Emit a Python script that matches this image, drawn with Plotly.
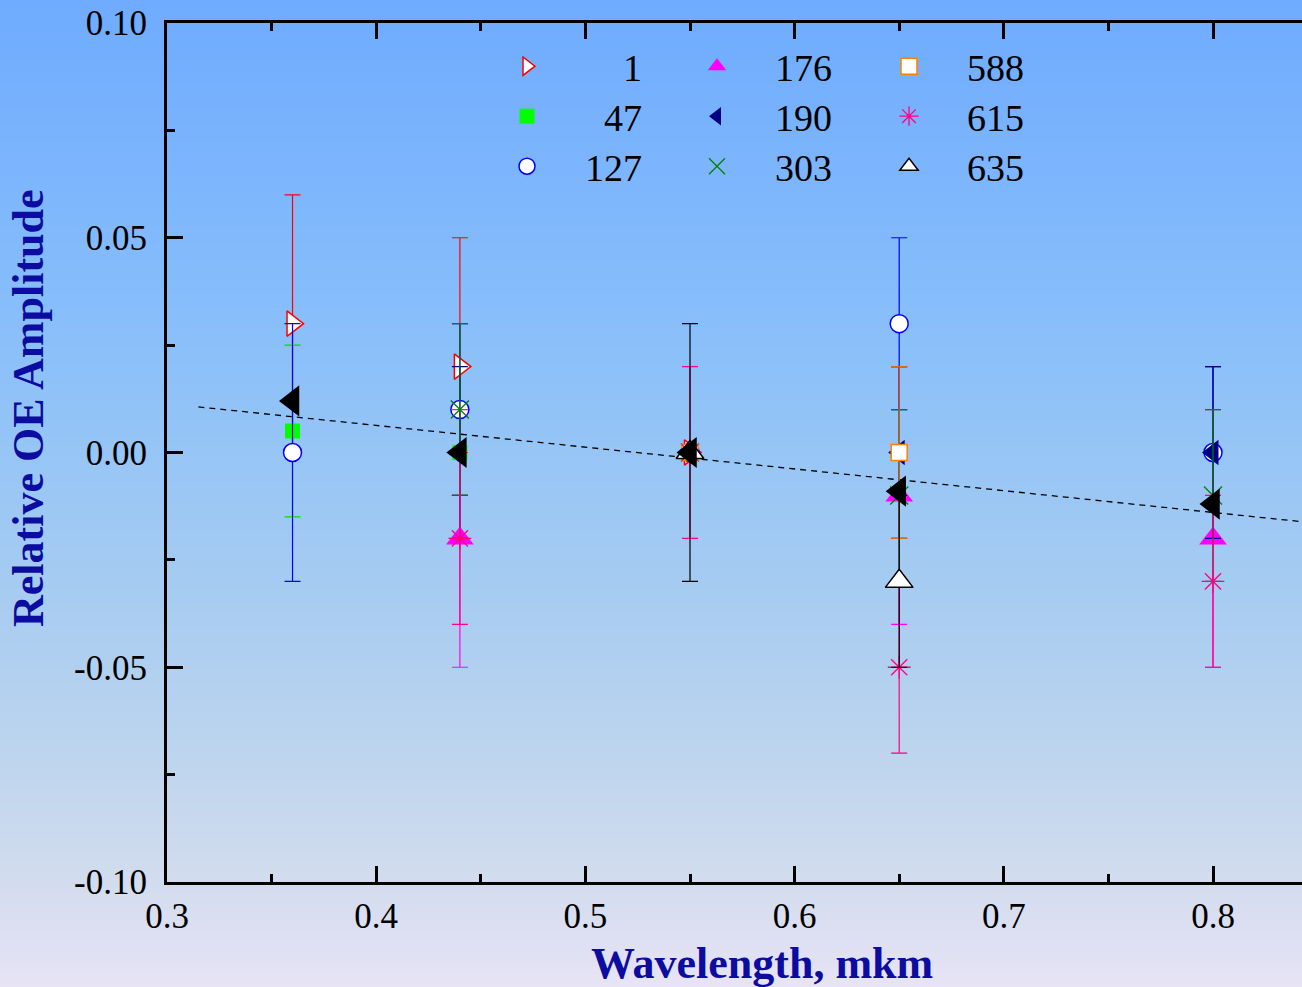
import base64
import struct
import zlib

import numpy as np
import plotly.graph_objects as go

# ---------------------------------------------------------------- data
wavelength = [0.36, 0.44, 0.55, 0.65, 0.80]

s1 = [0.030, 0.020, 0.000, None, None]
s1_err = [0.030, 0.030, 0.000, None, None]

s47 = [0.005, 0.000, 0.000, None, None]
s47_err = [0.020, 0.000, 0.000, None, None]

s127 = [0.000, 0.010, 0.000, 0.030, 0.000]
s127_err = [0.030, 0.020, 0.000, 0.020, 0.020]

s176 = [None, -0.020, 0.000, -0.010, -0.020]
s176_err = [None, 0.030, 0.000, 0.030, 0.030]

s190 = [None, 0.000, 0.000, 0.000, 0.000]
s190_err = [None, 0.020, 0.000, 0.020, 0.020]

s303 = [None, 0.010, 0.000, -0.010, -0.010]
s303_err = [None, 0.020, 0.000, 0.020, 0.020]

s588 = [None, None, 0.000, 0.000, None]
s588_err = [None, None, 0.000, 0.020, None]

s615 = [None, -0.020, 0.000, -0.050, -0.030]
s615_err = [None, 0.020, 0.020, 0.020, 0.020]

s635 = [None, None, 0.000, -0.030, None]
s635_err = [None, None, 0.030, 0.020, None]

mean_amp = [0.012, 0.000, 0.000, -0.009, -0.012]

fit_x_start = 0.315
fit_x_end = 0.86

x_tickvals = [0.3, 0.4, 0.5, 0.6, 0.7, 0.8]
x_ticktext = ["0.3", "0.4", "0.5", "0.6", "0.7", "0.8"]
y_tickvals = [-0.10, -0.05, 0.00, 0.05, 0.10]
y_ticktext = ["-0.10", "-0.05", "0.00", "0.05", "0.10"]

# ---------------------------------------------------------------- layout geometry
W, H = 1302, 987
ML, MT, MB, MR = 167, 23, 105, 0
PW, PH = W - ML - MR, H - MT - MB

SERIF = "Liberation Serif"
TITLE_BLUE = "#0C0CA0"

# legend key grid (pixel centres of the symbols), three columns by three rows
KEY_COLS = [527, 717, 909]
KEY_ROWS = [68, 118, 168]


def px_x(p):
    return (p - ML) / PW


def px_y(p):
    return (H - MB - p) / PH


# ---------------------------------------------------------------- vertical background gradient
grad_stops = [
    (0, (111, 171, 255)),
    (300, (134, 189, 251)),
    (450, (150, 197, 246)),
    (600, (168, 204, 241)),
    (760, (190, 213, 238)),
    (880, (210, 220, 238)),
    (960, (226, 225, 244)),
    (987, (232, 228, 246)),
]


def gradient_png(height):
    ys = [s[0] for s in grad_stops]
    chans = [np.interp(np.arange(height), ys, [s[1][k] for s in grad_stops]) for k in range(3)]
    raw = b"".join(
        b"\x00" + bytes(int(round(chans[k][r])) for k in range(3)) for r in range(height)
    )

    def chunk(tag, data):
        c = tag + data
        return struct.pack(">I", len(data)) + c + struct.pack(">I", zlib.crc32(c) & 0xFFFFFFFF)

    png = b"\x89PNG\r\n\x1a\n"
    png += chunk(b"IHDR", struct.pack(">IIBBBBB", 1, height, 8, 2, 0, 0, 0))
    png += chunk(b"IDAT", zlib.compress(raw, 9))
    png += chunk(b"IEND", b"")
    return "data:image/png;base64," + base64.b64encode(png).decode()


fig = go.Figure()

# linear fit through the averaged amplitudes
slope, intercept = np.polyfit(wavelength, mean_amp, 1)
fit_x = np.array([fit_x_start, fit_x_end])
fig.add_trace(go.Scatter(
    x=fit_x, y=intercept + slope * fit_x, mode="lines",
    line=dict(color="black", width=1.3, dash="6px,5px"),
    showlegend=False, hoverinfo="skip",
))

# name, values, errors, symbol, size, fill, outline, error colour, (col, row), label padding
series = [
    ("1", s1, s1_err, "triangle-right", 22, "white", "#FF0000", "#FF0000", (0, 0), 8),
    ("47", s47, s47_err, "square", 15, "#00FF00", "#00FF00", "#00E000", (0, 1), 6),
    ("127", s127, s127_err, "circle", 18, "white", "#0000FF", "#0000FF", (0, 2), 4),
    ("176", s176, s176_err, "triangle-up", 24, "#FF00FF", "#FF00FF", "#FF00FF", (1, 0), 4),
    ("190", s190, s190_err, "triangle-left", 22, "#000080", "#000080", "#000080", (1, 1), 4),
    ("303", s303, s303_err, "x-thin-open", 18, "#008000", "#008000", "#008000", (1, 2), 4),
    ("588", s588, s588_err, "square", 16, "white", "#FF8000", "#D07020", (2, 0), 4),
    ("615", s615, s615_err, "asterisk-open", 19, "#FF0080", "#FF0080", "#FF0080", (2, 1), 4),
    ("635", s635, s635_err, "triangle-up", 24, "white", "#000000", "#000000", (2, 2), 4),
]

legend_layouts = {}
for i, (name, vals, errs, sym, size, fill, outline, ecol, (col, row), pad) in enumerate(series):
    open_sym = sym.endswith("-open")
    lg = "legend" if i == 0 else f"legend{i + 1}"
    fig.add_trace(go.Scatter(
        x=wavelength, y=vals, mode="markers",
        name="\u00a0" * pad + name,
        legend=lg,
        marker=dict(
            symbol=sym, size=size,
            color=outline if open_sym else fill,
            line=dict(color=outline, width=1.3 if open_sym else (1.5 if fill == "white" else 0)),
        ),
        error_y=dict(type="data", array=errs, visible=True, color=ecol, thickness=1.2, width=8),
    ))
    legend_layouts[lg] = dict(
        orientation="v", xanchor="left", yanchor="top",
        x=px_x(KEY_COLS[col] - 20), y=px_y(KEY_ROWS[row] - 33),
        font=dict(family=SERIF, size=38, color="black"),
        bgcolor="rgba(0,0,0,0)", borderwidth=0, itemsizing="trace",
    )

fig.add_trace(go.Scatter(
    x=wavelength, y=mean_amp, mode="markers",
    marker=dict(symbol="triangle-left", size=27, color="black", line=dict(width=0)),
    showlegend=False,
))

axis_common = dict(
    showline=True, linecolor="black", linewidth=3,
    ticks="inside", ticklen=16, tickwidth=3, tickcolor="black",
    showgrid=False, zeroline=False,
    tickfont=dict(family=SERIF, size=35, color="black"),
)

fig.update_xaxes(
    range=[0.3, 0.3 + 0.1 * PW / 209.2],
    tickvals=x_tickvals, ticktext=x_ticktext,
    mirror="allticks",
    minor=dict(dtick=0.05, tick0=0.3, ticks="inside", ticklen=8, tickwidth=3, tickcolor="black"),
    ticklabelstandoff=1,
    **axis_common,
)
fig.update_yaxes(
    range=[-0.1, 0.1],
    tickvals=y_tickvals, ticktext=y_ticktext,
    mirror=False,
    minor=dict(dtick=0.025, tick0=0, ticks="inside", ticklen=8, tickwidth=3, tickcolor="black"),
    ticklabelstandoff=10,
    **axis_common,
)

fig.update_layout(
    width=W, height=H,
    margin=dict(l=ML, r=MR, t=MT, b=MB),
    paper_bgcolor="#A0C4F4",
    plot_bgcolor="rgba(0,0,0,0)",
    showlegend=True,
    images=[dict(
        source=gradient_png(H), xref="paper", yref="paper",
        x=px_x(0), y=px_y(0), sizex=W / PW, sizey=H / PH,
        xanchor="left", yanchor="top", sizing="stretch", layer="below",
    )],
    annotations=[
        dict(text="<b>Wavelength, mkm</b>", xref="paper", yref="paper",
             x=px_x(762), y=px_y(963), xanchor="center", yanchor="middle",
             showarrow=False, font=dict(family=SERIF, size=44, color=TITLE_BLUE)),
        dict(text="<b>Relative OE Amplitude</b>", xref="paper", yref="paper",
             x=px_x(28), y=px_y(408), xanchor="center", yanchor="middle", textangle=-90,
             showarrow=False, font=dict(family=SERIF, size=44, color=TITLE_BLUE)),
    ],
    **legend_layouts,
)

fig.write_html("out.html")
